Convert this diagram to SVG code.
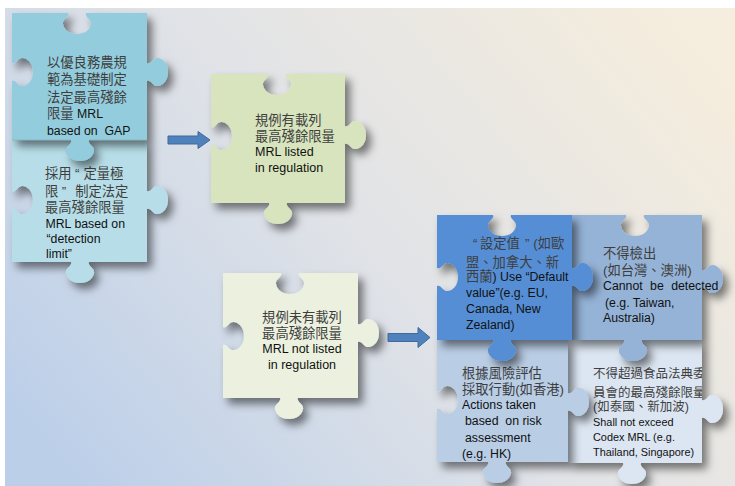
<svg xmlns="http://www.w3.org/2000/svg" width="735" height="486" viewBox="0 0 735 486">
  <defs>
    <linearGradient id="bg" gradientUnits="userSpaceOnUse" x1="80" y1="486" x2="660" y2="0">
      <stop offset="0" stop-color="#bccfe9"/>
      <stop offset="0.5" stop-color="#e1e3e7"/>
      <stop offset="1" stop-color="#f5eddd"/>
    </linearGradient>
    <filter id="sh" x="-20%" y="-20%" width="150%" height="150%">
      <feDropShadow dx="5" dy="6" stdDeviation="4.5" flood-color="#000" flood-opacity="0.5"/>
    </filter>
    <clipPath id="clipH">
      <rect x="568" y="340" width="134" height="125"/>
    </clipPath>
  </defs>
  <style>
    .piece { filter: url(#sh); }
    .t { font-family: "Liberation Sans", "Noto Sans CJK TC", sans-serif; }
    .zh { font-size: 13.3px; fill: #3e3e3e; }
    .en { font-size: 12.3px; fill: #111111; }
    .en-l { font-size: 12.5px; }
    .zh-s { font-size: 12.5px; }
    .en-s { font-size: 10.9px; }
    .arrow { fill: #4f81bd; stroke: #41699b; stroke-width: 1; }
    .seam { stroke: #8fb4c0; stroke-width: 1.2; fill: none; }
  </style>

  <!-- backdrop -->
  <rect x="0" y="0" width="735" height="486" fill="#ffffff"/>
  <rect x="5" y="8" width="730" height="478" fill="url(#bg)"/>

  <!-- left column: statutory MRL options -->
  <g id="node-detection-limit">
    <path class="piece" fill="#b7dee8" d="M12,140 H71 c2,4 -6,6 -5,11 c1,6 6.5,10 14,10 c7.5,0 13,-4 14,-10 c1,-5 -7,-7 -5,-11 H147 V191 c4,2 6,-6 11,-5 c6,1 10,6.5 10,14 c0,7.5 -4,13 -10,14 c-5,1 -7,-7 -11,-5 V262 H89 c-2,4 6,6 5,11 c-1,6 -6.5,10 -14,10 c-7.5,0 -13,-4 -14,-10 c-1,-5 7,-7 5,-11 H12 V209 c4,-2 6,6 11,5 c6,-1 10,-6.5 10,-14 c0,-7.5 -4,-13 -10,-14 c-5,-1 -7,7 -11,5 Z"/>
    <text class="t zh" x="45" y="178.3">採用<tspan dx="3.5">“</tspan><tspan dx="4">定量極</tspan></text>
    <text class="t zh" x="45" y="195.7">限<tspan dx="3.4">”</tspan><tspan dx="9">制定法定</tspan></text>
    <text class="t zh" x="45" y="212.3">最高殘餘限量</text>
    <text class="t en" x="45.5" y="227.7">MRL based on</text>
    <text class="t en" x="46.5" y="243.3">“detection</text>
    <text class="t en" x="46" y="258.3">limit”</text>
  </g>

  <g id="node-gap">
    <path class="piece" fill="#93cddd" d="M12,13 H68 c2,4 -6,6 -5,11 c1,6 6.5,10 14,10 c7.5,0 13,-4 14,-10 c1,-5 -7,-7 -5,-11 H147 V63 c4,2 6,-6 11,-5 c6,1 10,6.5 10,14 c0,7.5 -4,13 -10,14 c-5,1 -7,-7 -11,-5 V140 H89 c-2,4 6,6 5,11 c-1,6 -6.5,10 -14,10 c-7.5,0 -13,-4 -14,-10 c-1,-5 7,-7 5,-11 H12 V81 c4,-2 6,6 11,5 c6,-1 10,-6.5 10,-14 c0,-7.5 -4,-13 -10,-14 c-5,-1 -7,7 -11,5 Z"/>
    <path class="seam" d="M12,140 H71 M89,140 H147"/>
    <text class="t zh" x="47" y="66.7">以優良務農規</text>
    <text class="t zh" x="47" y="84">範為基礎制定</text>
    <text class="t zh" x="47" y="102">法定最高殘餘</text>
    <text class="t zh" x="47" y="118">限量<tspan class="en"> MRL</tspan></text>
    <text class="t en" x="47" y="135" xml:space="preserve">based on  GAP</text>
  </g>

  <!-- middle column -->
  <g id="node-listed">
    <path class="piece" fill="#d7e4bd" d="M211,74 H268 c2,4 -6,6 -5,11 c1,6 6.5,10 14,10 c7.5,0 13,-4 14,-10 c1,-5 -7,-7 -5,-11 H345 V126 c4,2 6,-6 11,-5 c6,1 10,6.5 10,14 c0,7.5 -4,13 -10,14 c-5,1 -7,-7 -11,-5 V203 H287 c-2,4 6,6 5,11 c-1,6 -6.5,10 -14,10 c-7.5,0 -13,-4 -14,-10 c-1,-5 7,-7 5,-11 H211 V145 c4,-2 6,6 11,5 c6,-1 10,-6.5 10,-14 c0,-7.5 -4,-13 -10,-14 c-5,-1 -7,7 -11,5 Z"/>
    <text class="t zh" x="255" y="125">規例有載列</text>
    <text class="t zh" x="255" y="141">最高殘餘限量</text>
    <text class="t en en-l" x="255" y="155.7">MRL listed</text>
    <text class="t en en-l" x="255" y="171.7">in regulation</text>
  </g>

  <g id="node-not-listed">
    <path class="piece" fill="#ebf1de" d="M223,273 H281 c2,4 -6,6 -5,11 c1,6 6.5,10 14,10 c7.5,0 13,-4 14,-10 c1,-5 -7,-7 -5,-11 H358 V324 c4,2 6,-6 11,-5 c6,1 10,6.5 10,14 c0,7.5 -4,13 -10,14 c-5,1 -7,-7 -11,-5 V398 H298 c-2,4 6,6 5,11 c-1,6 -6.5,10 -14,10 c-7.5,0 -13,-4 -14,-10 c-1,-5 7,-7 5,-11 H223 V345 c4,-2 6,6 11,5 c6,-1 10,-6.5 10,-14 c0,-7.5 -4,-13 -10,-14 c-5,-1 -7,7 -11,5 Z"/>
    <text class="t zh" x="302" y="321.7" text-anchor="middle">規例未有載列</text>
    <text class="t zh" x="302" y="338.3" text-anchor="middle">最高殘餘限量</text>
    <text class="t en en-l" x="302" y="353.3" text-anchor="middle">MRL not listed</text>
    <text class="t en en-l" x="302" y="369.3" text-anchor="middle">in regulation</text>
  </g>

  <!-- right block: approaches when no MRL is listed -->
  <g id="node-codex">
    <path class="piece" fill="#dce6f2" d="M568,340 H624 c2,4 -6,6 -5,11 c1,6 6.5,10 14,10 c7.5,0 13,-4 14,-10 c1,-5 -7,-7 -5,-11 H702 V400 c4,2 6,-6 11,-5 c6,1 10,6.5 10,14 c0,7.5 -4,13 -10,14 c-5,1 -7,-7 -11,-5 V463 H641 c-2,4 6,6 5,11 c-1,6 -6.5,10 -14,10 c-7.5,0 -13,-4 -14,-10 c-1,-5 7,-7 5,-11 H568 V411 c4,-2 6,6 11,5 c6,-1 10,-6.5 10,-14 c0,-7.5 -4,-13 -10,-14 c-5,-1 -7,7 -11,5 Z"/>
    <g clip-path="url(#clipH)">
      <text class="t zh zh-s" x="593" y="378.3">不得超過食品法典委</text>
      <text class="t zh zh-s" x="593" y="396.7">員會的最高殘餘限量</text>
      <text class="t zh zh-s" x="593" y="411">(如泰國、新加波)</text>
      <text class="t en en-s" x="593" y="425.7">Shall not exceed</text>
      <text class="t en en-s" x="593" y="441">Codex MRL (e.g.</text>
      <text class="t en en-s" x="593" y="455.7">Thailand, Singapore)</text>
    </g>
  </g>

  <g id="node-risk">
    <path class="piece" fill="#b9cde5" d="M437,340 H493 c2,4 -6,6 -5,11 c1,6 6.5,10 14,10 c7.5,0 13,-4 14,-10 c1,-5 -7,-7 -5,-11 H568 V393 c4,2 6,-6 11,-5 c6,1 10,6.5 10,14 c0,7.5 -4,13 -10,14 c-5,1 -7,-7 -11,-5 V462 H506 c-2,4 6,6 5,11 c-1,6 -6.5,10 -14,10 c-7.5,0 -13,-4 -14,-10 c-1,-5 7,-7 5,-11 H437 V409 c4,-2 6,6 11,5 c6,-1 10,-6.5 10,-14 c0,-7.5 -4,-13 -10,-14 c-5,-1 -7,7 -11,5 Z"/>
    <text class="t zh" x="462" y="377.7">根據風險評估</text>
    <text class="t zh" x="462" y="394.3">採取行動(如香港)</text>
    <text class="t en" x="462" y="409">Actions taken</text>
    <text class="t en" x="465" y="425" xml:space="preserve">based  on risk</text>
    <text class="t en" x="465" y="441.7">assessment</text>
    <text class="t en" x="462" y="457.7">(e.g. HK)</text>
  </g>

  <g id="node-not-detected">
    <path class="piece" fill="#95b3d7" d="M572,215 H626 c2,4 -6,6 -5,11 c1,6 6.5,10 14,10 c7.5,0 13,-4 14,-10 c1,-5 -7,-7 -5,-11 H702 V270 c4,2 6,-6 11,-5 c6,1 10,6.5 10,14 c0,7.5 -4,13 -10,14 c-5,1 -7,-7 -11,-5 V340 H642 c-2,4 6,6 5,11 c-1,6 -6.5,10 -14,10 c-7.5,0 -13,-4 -14,-10 c-1,-5 7,-7 5,-11 H572 V286 c4,-2 6,6 11,5 c6,-1 10,-6.5 10,-14 c0,-7.5 -4,-13 -10,-14 c-5,-1 -7,7 -11,5 Z"/>
    <text class="t zh" x="603" y="257.7">不得檢出</text>
    <text class="t zh" x="603" y="275">(如台灣、澳洲)</text>
    <text class="t en" x="603" y="290" word-spacing="4">Cannot be detected</text>
    <text class="t en" x="605" y="306.7">(e.g. Taiwan,</text>
    <text class="t en" x="603" y="321.7">Australia)</text>
  </g>

  <g id="node-default-value">
    <path class="piece" fill="#558ed5" d="M437,215 H493 c2,4 -6,6 -5,11 c1,6 6.5,10 14,10 c7.5,0 13,-4 14,-10 c1,-5 -7,-7 -5,-11 H572 V268 c4,2 6,-6 11,-5 c6,1 10,6.5 10,14 c0,7.5 -4,13 -10,14 c-5,1 -7,-7 -11,-5 V340 H511 c-2,4 6,6 5,11 c-1,6 -6.5,10 -14,10 c-7.5,0 -13,-4 -14,-10 c-1,-5 7,-7 5,-11 H437 V286 c4,-2 6,6 11,5 c6,-1 10,-6.5 10,-14 c0,-7.5 -4,-13 -10,-14 c-5,-1 -7,7 -11,5 Z"/>
    <text class="t zh" x="473" y="248.3">“<tspan dx="2.6">設定值</tspan><tspan dx="5">”</tspan><tspan dx="4">(如歐</tspan></text>
    <text class="t zh" x="466" y="266.7">盟、加拿大、新</text>
    <text class="t zh" x="466" y="281">西蘭<tspan class="en">) Use “Default</tspan></text>
    <text class="t en" x="466" y="296.7">value”(e.g. EU,</text>
    <text class="t en" x="466" y="313.3">Canada, New</text>
    <text class="t en" x="466" y="329.3">Zealand)</text>
  </g>

  <!-- connectors -->
  <g id="connectors">
    <path class="arrow" d="M168,136 H198 V131.5 L210,140 L198,148.5 V144 H168 Z"/>
    <path class="arrow" d="M388,333.5 H418 V327.5 L430,337.5 L418,347.5 V341.5 H388 Z"/>
  </g>
</svg>
